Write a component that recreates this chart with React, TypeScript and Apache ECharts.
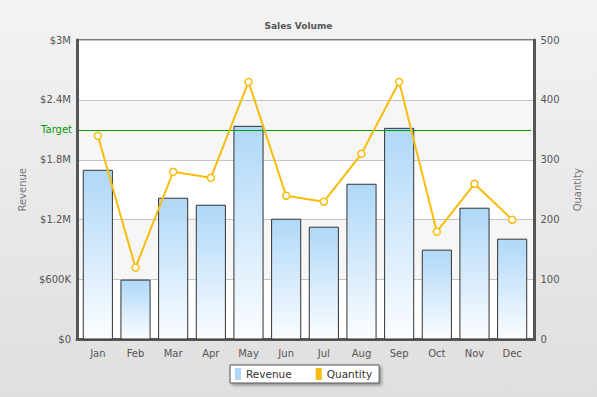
import React, { useEffect, useRef } from "react";
import * as echarts from "echarts";

const categories = ["Jan", "Feb", "Mar", "Apr", "May", "Jun", "Jul", "Aug", "Sep", "Oct", "Nov", "Dec"];
const revenue = [1700000, 600000, 1420000, 1350000, 2140000, 1210000, 1130000, 1560000, 2120000, 900000, 1320000, 1010000];
const quantity = [340, 120, 280, 270, 430, 240, 230, 310, 430, 180, 260, 200];
const revenueTickLabels = ["$0", "$600K", "$1.2M", "$1.8M", "$2.4M", "$3M"];
const targetValue = 2100000;

const FONT = "DejaVu Sans, Verdana, sans-serif";

export default function App() {
  const ref = useRef<HTMLDivElement>(null);
  useEffect(() => {
    document.body.style.margin = "0";
    const chart = echarts.init(ref.current!, undefined, { renderer: "svg" });
    chart.setOption({
      animation: false,
      backgroundColor: new echarts.graphic.LinearGradient(0, 0, 0, 1, [
        { offset: 0, color: "#f3f3f3" },
        { offset: 1, color: "#dfdfdf" },
      ]),
      textStyle: { fontFamily: FONT },
      title: {
        text: "Sales Volume",
        left: "center",
        top: 16,
        textStyle: { fontSize: 9, fontWeight: "bold", color: "#555", fontFamily: FONT },
      },
      grid: [
        {
          left: 77,
          right: 62.5,
          top: 40,
          bottom: 57.5,
          show: true,
          backgroundColor: "#ffffff",
          borderColor: "#555",
          borderWidth: 1.5,
        },
        {
          left: 79,
          right: 66,
          top: 40,
          bottom: 57.5,
          show: false,
        },
      ],
      legend: {
        left: 230,
        top: 365,
        padding: [3, 7, 3, 5],
        itemGap: 24,
        itemWidth: 6,
        itemHeight: 12,
        backgroundColor: "#ffffff",
        borderColor: "#555",
        borderWidth: 1,
        shadowColor: "rgba(0,0,0,0.35)",
        shadowBlur: 3,
        shadowOffsetX: 2,
        shadowOffsetY: 2,
        textStyle: { fontSize: 10.5, color: "#333", fontFamily: FONT },
        data: [
          { name: "Revenue", icon: "rect", itemStyle: { color: "#AFD8F8", borderWidth: 0 } },
          { name: "Quantity", icon: "rect", itemStyle: { color: "#F6BD0F", borderWidth: 0 } },
        ],
      },
      xAxis: [
        {
          type: "category",
          gridIndex: 0,
          data: categories,
          axisLine: { show: true, lineStyle: { color: "#555", width: 3 } },
          axisTick: { show: false },
          axisLabel: { show: false },
        },
        {
          type: "category",
          gridIndex: 1,
          data: categories,
          axisLine: { show: false },
          axisTick: { show: false },
          axisLabel: { color: "#555", fontSize: 10, margin: 9, fontFamily: FONT },
        },
      ],
      yAxis: [
        {
          type: "value",
          gridIndex: 0,
          min: 0,
          max: 3000000,
          interval: 600000,
          name: "Revenue",
          nameLocation: "middle",
          nameRotate: 90,
          nameGap: 50,
          nameTextStyle: { color: "#777", fontSize: 10, fontFamily: FONT },
          axisLine: { show: true, lineStyle: { color: "#555", width: 3 } },
          axisTick: { show: false },
          axisLabel: {
            color: "#555",
            fontSize: 10,
            margin: 6,
            fontFamily: FONT,
            formatter: (v: number) => revenueTickLabels[Math.round(v / 600000)] ?? "",
          },
          splitLine: { show: true, lineStyle: { color: "#c4c4c4", width: 1 } },
          splitArea: { show: true, areaStyle: { color: ["#ffffff", "#f6f6f6"] } },
        },
        {
          type: "value",
          gridIndex: 0,
          position: "right",
          min: 0,
          max: 500,
          interval: 100,
          name: "Quantity",
          nameLocation: "middle",
          nameRotate: 90,
          nameGap: 38,
          nameTextStyle: { color: "#777", fontSize: 10, fontFamily: FONT },
          axisLine: { show: true, lineStyle: { color: "#555", width: 3 } },
          axisTick: { show: false },
          axisLabel: { color: "#555", fontSize: 10, margin: 6, fontFamily: FONT },
          splitLine: { show: false },
        },
        {
          type: "value",
          gridIndex: 1,
          min: 0,
          max: 3000000,
          interval: 600000,
          show: false,
        },
        {
          type: "value",
          gridIndex: 1,
          position: "right",
          min: 0,
          max: 500,
          interval: 100,
          show: false,
        },
      ],
      series: [
        {
          name: "Revenue",
          type: "bar",
          xAxisIndex: 1,
          yAxisIndex: 2,
          data: revenue,
          barWidth: "80%",
          itemStyle: {
            color: new echarts.graphic.LinearGradient(0, 0, 0, 1, [
              { offset: 0, color: "#AFD8F8" },
              { offset: 1, color: "#fbfdff" },
            ]),
            borderColor: "#333",
            borderWidth: 1,
          },
          markLine: {
            silent: true,
            symbol: "none",
            lineStyle: { color: "#009900", width: 1, type: "solid" },
            label: {
              show: true,
              position: "start",
              formatter: "Target",
              color: "#009900",
              fontSize: 10,
              fontFamily: FONT,
              distance: 7,
            },
            data: [{ yAxis: targetValue }],
          },
        },
        {
          name: "Quantity",
          type: "line",
          xAxisIndex: 1,
          yAxisIndex: 3,
          data: quantity,
          symbol: "circle",
          symbolSize: 7,
          lineStyle: { color: "#F6BD0F", width: 2 },
          itemStyle: { color: "#ffffff", borderColor: "#F6BD0F", borderWidth: 1.5 },
          z: 5,
        },
      ],
    });
    return () => chart.dispose();
  }, []);
  return <div ref={ref} style={{ position: "absolute", left: 0, top: 0, width: 597, height: 397 }} />;
}
